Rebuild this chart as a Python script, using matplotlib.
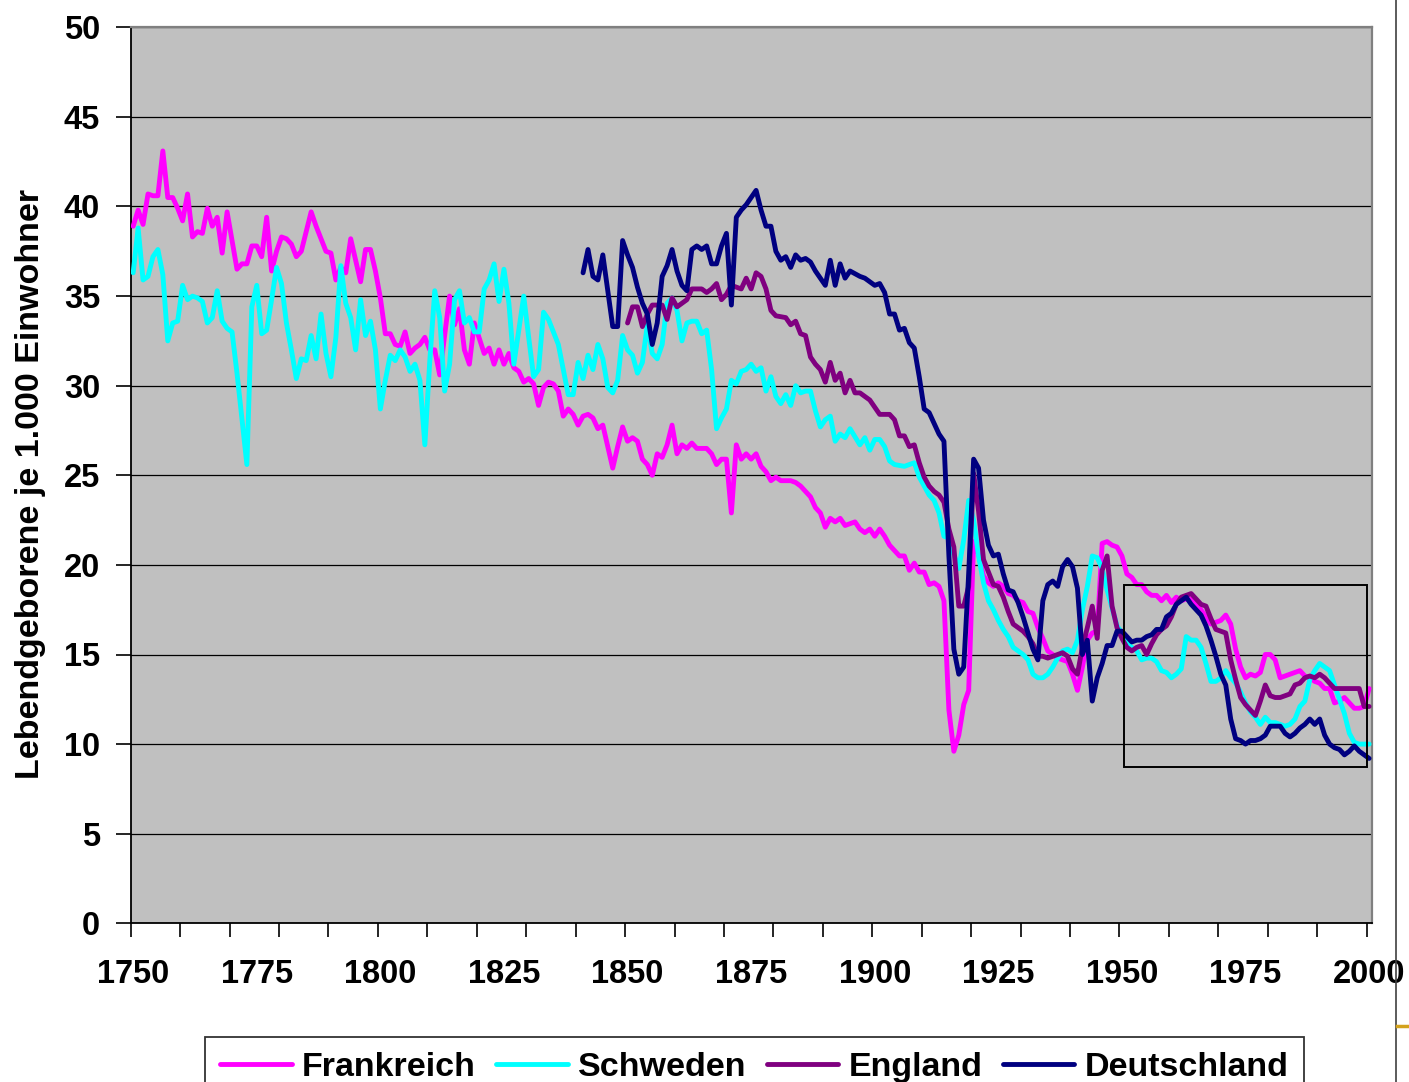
import matplotlib.pyplot as plt
from matplotlib.lines import Line2D
from matplotlib.patches import Rectangle
from matplotlib.font_manager import FontProperties

# Lebendgeborene je 1.000 Einwohner, 1750-2000
fr_years = [1750, 1751, 1752, 1753, 1754, 1755, 1756, 1757, 1758, 1759, 1760, 1761, 1762, 1763, 1764,
            1765, 1766, 1767, 1768, 1769, 1771, 1772, 1773, 1774, 1775, 1776, 1777, 1778, 1779, 1780,
            1781, 1782, 1783, 1784, 1785, 1786, 1787, 1789, 1790, 1791, 1792, 1793, 1794, 1796, 1797,
            1798, 1799, 1800, 1801, 1802, 1803, 1804, 1805, 1806, 1807, 1808, 1809, 1810, 1811, 1812,
            1814, 1815, 1816, 1817, 1818, 1819, 1821, 1822, 1823, 1824, 1825, 1826, 1827, 1828, 1829,
            1830, 1831, 1832, 1833, 1834, 1835, 1836, 1837, 1838, 1839, 1840, 1841, 1842, 1843, 1844,
            1845, 1847, 1848, 1849, 1850, 1851, 1852, 1853, 1854, 1855, 1856, 1857, 1858, 1859, 1860,
            1861, 1862, 1863, 1864, 1866, 1867, 1868, 1869, 1870, 1871, 1872, 1873, 1874, 1875, 1876,
            1877, 1878, 1879, 1880, 1881, 1883, 1884, 1885, 1887, 1888, 1889, 1890, 1891, 1892, 1893,
            1894, 1896, 1897, 1898, 1899, 1900, 1901, 1902, 1903, 1904, 1905, 1906, 1907, 1908, 1909,
            1910, 1911, 1912, 1913, 1914, 1915, 1916, 1917, 1918, 1919, 1920, 1921, 1922, 1923, 1924,
            1925, 1926, 1927, 1928, 1929, 1930, 1931, 1932, 1933, 1934, 1935, 1936, 1937, 1938, 1939,
            1940, 1941, 1942, 1943, 1944, 1945, 1946, 1947, 1948, 1949, 1950, 1951, 1952, 1953, 1954,
            1955, 1956, 1957, 1958, 1959, 1960, 1961, 1962, 1963, 1964, 1965, 1966, 1967, 1968, 1969,
            1970, 1971, 1972, 1973, 1974, 1975, 1976, 1977, 1978, 1979, 1980, 1981, 1982, 1983, 1984,
            1986, 1987, 1988, 1989, 1990, 1991, 1992, 1993, 1994, 1995, 1997, 1998, 1999, 2000]
fr_rate = [38.9, 39.8, 39.0, 40.7, 40.6, 40.6, 43.1, 40.5, 40.5, 39.9, 39.2, 40.7, 38.3, 38.6, 38.5,
           39.9, 38.9, 39.4, 37.4, 39.7, 36.5, 36.8, 36.8, 37.8, 37.8, 37.2, 39.4, 36.4, 37.5, 38.3,
           38.2, 37.9, 37.2, 37.5, 38.6, 39.7, 38.9, 37.5, 37.4, 35.9, 36.6, 36.3, 38.2, 35.8, 37.6,
           37.6, 36.4, 34.9, 32.9, 32.9, 32.3, 32.2, 33.0, 31.8, 32.1, 32.3, 32.7, 32.0, 32.0, 30.6,
           35.0, 33.4, 34.3, 32.0, 31.2, 33.5, 31.8, 32.1, 31.2, 32.0, 31.2, 31.8, 31.0, 30.8, 30.2,
           30.4, 30.1, 28.9, 29.9, 30.2, 30.1, 29.7, 28.3, 28.7, 28.4, 27.8, 28.3, 28.4, 28.2, 27.6,
           27.8, 25.4, 26.6, 27.7, 26.9, 27.1, 26.9, 25.9, 25.6, 25.0, 26.2, 26.0, 26.7, 27.8, 26.2,
           26.7, 26.5, 26.8, 26.5, 26.5, 26.2, 25.6, 25.9, 25.9, 22.9, 26.7, 25.9, 26.2, 25.9, 26.2,
           25.5, 25.2, 24.7, 24.9, 24.7, 24.7, 24.6, 24.4, 23.8, 23.2, 22.9, 22.1, 22.6, 22.4, 22.6,
           22.2, 22.4, 22.0, 21.8, 22.0, 21.6, 22.0, 21.6, 21.1, 20.8, 20.5, 20.5, 19.7, 20.1, 19.6,
           19.6, 18.9, 19.0, 18.8, 18.0, 11.9, 9.6, 10.5, 12.2, 13.0, 21.3, 20.6, 19.4, 19.0, 18.8,
           19.0, 18.8, 18.4, 18.3, 18.0, 17.9, 17.4, 17.3, 16.5, 15.9, 15.2, 15.0, 14.8, 14.7, 14.6,
           13.9, 13.0, 14.3, 15.8, 16.2, 16.3, 21.2, 21.3, 21.1, 21.0, 20.5, 19.5, 19.3, 18.9, 18.9,
           18.5, 18.3, 18.3, 18.0, 18.3, 17.9, 18.2, 18.0, 18.1, 18.1, 17.8, 17.5, 17.1, 16.7, 16.8,
           16.9, 17.2, 16.7, 15.3, 14.3, 13.7, 13.9, 13.8, 14.0, 15.0, 15.0, 14.7, 13.7, 13.8, 13.9,
           14.1, 13.8, 13.7, 13.5, 13.4, 13.1, 13.1, 12.3, 12.4, 12.6, 12.0, 12.0, 12.1, 13.1]

se_years = [1750, 1751, 1752, 1753, 1754, 1755, 1756, 1757, 1758, 1759, 1760, 1761, 1762, 1763, 1764,
            1765, 1766, 1767, 1768, 1769, 1770, 1771, 1773, 1774, 1775, 1776, 1777, 1778, 1779, 1780,
            1781, 1782, 1783, 1784, 1785, 1786, 1787, 1788, 1789, 1790, 1791, 1792, 1793, 1794, 1795,
            1796, 1797, 1798, 1799, 1800, 1801, 1802, 1803, 1804, 1805, 1806, 1807, 1808, 1809, 1810,
            1811, 1812, 1813, 1814, 1815, 1816, 1817, 1818, 1819, 1820, 1821, 1822, 1823, 1824, 1825,
            1826, 1827, 1829, 1830, 1831, 1832, 1833, 1834, 1836, 1837, 1838, 1839, 1840, 1841, 1842,
            1843, 1844, 1845, 1846, 1847, 1848, 1849, 1850, 1851, 1852, 1853, 1854, 1855, 1856, 1857,
            1858, 1859, 1860, 1861, 1862, 1863, 1864, 1865, 1866, 1867, 1868, 1869, 1870, 1871, 1872,
            1873, 1874, 1875, 1876, 1877, 1878, 1879, 1880, 1881, 1882, 1883, 1884, 1885, 1886, 1887,
            1888, 1889, 1890, 1891, 1892, 1893, 1894, 1895, 1897, 1898, 1899, 1900, 1901, 1902, 1903,
            1904, 1906, 1908, 1909, 1910, 1911, 1912, 1913, 1914, 1915, 1916, 1917, 1918, 1919, 1920,
            1921, 1922, 1923, 1924, 1925, 1926, 1927, 1928, 1929, 1930, 1931, 1932, 1933, 1934, 1935,
            1936, 1937, 1938, 1939, 1940, 1941, 1942, 1943, 1944, 1945, 1946, 1947, 1948, 1949, 1950,
            1951, 1952, 1953, 1954, 1955, 1956, 1957, 1958, 1959, 1960, 1961, 1962, 1963, 1964, 1965,
            1966, 1967, 1968, 1969, 1970, 1971, 1972, 1973, 1974, 1975, 1976, 1977, 1978, 1979, 1980,
            1981, 1982, 1983, 1984, 1985, 1986, 1987, 1988, 1989, 1990, 1991, 1992, 1993, 1994, 1995,
            1996, 1997, 1998, 1999, 2000]
se_rate = [36.3, 38.8, 35.9, 36.1, 37.2, 37.6, 36.2, 32.5, 33.5, 33.6, 35.6, 34.8, 35.0, 34.9, 34.7,
           33.5, 33.8, 35.3, 33.6, 33.2, 33.0, 30.7, 25.6, 34.4, 35.6, 32.9, 33.1, 34.8, 36.6, 35.7,
           33.5, 32.0, 30.4, 31.5, 31.4, 32.8, 31.5, 34.0, 31.8, 30.5, 32.7, 36.7, 34.6, 33.8, 32.0,
           34.8, 32.8, 33.6, 32.0, 28.7, 30.3, 31.7, 31.4, 32.0, 31.6, 30.8, 31.2, 30.3, 26.7, 31.4,
           35.3, 33.8, 29.7, 31.2, 34.8, 35.3, 33.5, 33.8, 33.0, 33.0, 35.4, 35.9, 36.8, 34.7, 36.5,
           34.6, 31.2, 35.0, 32.7, 30.5, 30.9, 34.1, 33.7, 32.3, 30.9, 29.5, 29.5, 31.3, 30.4, 31.7,
           30.9, 32.3, 31.5, 29.9, 29.6, 30.3, 32.8, 32.0, 31.7, 30.7, 31.3, 33.4, 31.8, 31.5, 32.3,
           34.6, 34.9, 34.2, 32.5, 33.5, 33.6, 33.6, 32.9, 33.1, 30.9, 27.6, 28.2, 28.7, 30.3, 30.1,
           30.8, 30.9, 31.2, 30.8, 31.0, 29.7, 30.5, 29.4, 29.0, 29.5, 28.9, 30.0, 29.6, 29.7, 29.7,
           28.6, 27.7, 28.1, 28.3, 26.9, 27.3, 27.1, 27.6, 26.7, 27.1, 26.4, 27.0, 27.0, 26.6, 25.8,
           25.6, 25.5, 25.7, 24.9, 24.4, 23.9, 23.6, 22.9, 21.6, 21.5, 20.6, 19.8, 21.4, 23.6, 22.5,
           20.5, 19.0, 18.0, 17.5, 16.9, 16.4, 16.0, 15.4, 15.2, 15.0, 14.7, 13.9, 13.7, 13.7, 13.9,
           14.3, 14.8, 15.2, 15.3, 15.1, 15.8, 17.5, 18.8, 20.5, 20.4, 19.8, 18.6, 17.6, 16.6, 16.2,
           15.6, 15.4, 15.2, 14.7, 14.8, 14.8, 14.6, 14.1, 14.0, 13.7, 13.9, 14.2, 16.0, 15.8, 15.8,
           15.4, 14.5, 13.5, 13.5, 13.7, 14.1, 13.7, 13.4, 12.9, 12.3, 11.8, 11.5, 11.1, 11.5, 11.2,
           11.2, 11.1, 11.0, 11.1, 11.4, 12.1, 12.4, 13.6, 14.1, 14.5, 14.3, 14.1, 13.3, 12.5, 11.7,
           10.6, 10.1, 10.0, 10.0, 10.0]

en_years = [1850, 1851, 1852, 1853, 1854, 1855, 1857, 1858, 1859, 1860, 1862, 1863, 1865, 1866, 1867,
            1868, 1869, 1870, 1871, 1873, 1874, 1875, 1876, 1877, 1878, 1879, 1880, 1882, 1883, 1884,
            1885, 1886, 1887, 1888, 1889, 1890, 1891, 1892, 1893, 1894, 1895, 1896, 1897, 1899, 1900,
            1901, 1903, 1904, 1905, 1906, 1907, 1908, 1909, 1910, 1911, 1912, 1913, 1914, 1915, 1916,
            1917, 1918, 1919, 1920, 1921, 1922, 1923, 1924, 1925, 1926, 1927, 1928, 1929, 1930, 1931,
            1932, 1933, 1934, 1935, 1936, 1937, 1938, 1939, 1940, 1941, 1942, 1943, 1944, 1945, 1946,
            1947, 1948, 1949, 1950, 1951, 1952, 1953, 1954, 1955, 1956, 1957, 1958, 1959, 1960, 1961,
            1962, 1963, 1964, 1965, 1966, 1967, 1968, 1969, 1970, 1971, 1972, 1973, 1974, 1975, 1976,
            1977, 1978, 1979, 1980, 1981, 1982, 1983, 1984, 1985, 1986, 1987, 1988, 1989, 1990, 1991,
            1992, 1993, 1994, 1995, 1996, 1997, 1998, 1999, 2000]
en_rate = [33.5, 34.4, 34.4, 33.3, 34.0, 34.5, 34.5, 33.7, 34.9, 34.4, 34.8, 35.4, 35.4, 35.2, 35.4,
           35.7, 34.8, 35.1, 35.6, 35.4, 36.0, 35.4, 36.3, 36.1, 35.4, 34.2, 33.9, 33.8, 33.4, 33.6,
           32.9, 32.8, 31.6, 31.2, 30.9, 30.2, 31.3, 30.3, 30.7, 29.6, 30.3, 29.6, 29.6, 29.2, 28.8,
           28.4, 28.4, 28.1, 27.2, 27.2, 26.6, 26.7, 25.7, 24.9, 24.4, 24.1, 23.9, 23.5, 22.0, 21.0,
           17.7, 17.7, 18.8, 25.1, 23.0, 20.3, 19.6, 18.9, 18.8, 18.2, 17.4, 16.7, 16.5, 16.3, 16.0,
           15.6, 14.9, 14.9, 14.8, 14.9, 15.0, 15.1, 14.9, 14.2, 13.9, 15.4, 16.5, 17.7, 15.9, 19.7,
           20.5, 17.7, 16.5, 15.9, 15.4, 15.2, 15.4, 15.5, 15.0, 15.6, 16.1, 16.4, 16.6, 17.1, 17.8,
           18.2, 18.3, 18.4, 18.1, 17.8, 17.7, 17.0, 16.4, 16.3, 16.2, 14.7, 13.6, 12.6, 12.2, 11.9,
           11.6, 12.4, 13.3, 12.7, 12.6, 12.6, 12.7, 12.8, 13.3, 13.4, 13.7, 13.8, 13.7, 13.9, 13.7,
           13.4, 13.1, 13.1, 13.1, 13.1, 13.1, 13.1, 12.1, 12.1]

de_years = [1841, 1842, 1843, 1844, 1845, 1847, 1848, 1849, 1850, 1851, 1852, 1853, 1854, 1855, 1856,
            1857, 1858, 1859, 1860, 1861, 1862, 1863, 1864, 1865, 1866, 1867, 1868, 1869, 1870, 1871,
            1872, 1873, 1874, 1875, 1876, 1877, 1878, 1879, 1880, 1881, 1882, 1883, 1884, 1885, 1886,
            1887, 1888, 1890, 1891, 1892, 1893, 1894, 1895, 1897, 1898, 1900, 1901, 1902, 1903, 1904,
            1905, 1906, 1907, 1908, 1909, 1910, 1911, 1913, 1914, 1915, 1916, 1917, 1918, 1919, 1920,
            1921, 1922, 1923, 1924, 1925, 1926, 1927, 1928, 1929, 1930, 1931, 1932, 1933, 1934, 1935,
            1936, 1937, 1938, 1939, 1940, 1941, 1942, 1943, 1944, 1945, 1946, 1947, 1948, 1949, 1950,
            1951, 1952, 1953, 1954, 1955, 1956, 1957, 1958, 1959, 1960, 1961, 1962, 1963, 1964, 1965,
            1966, 1967, 1968, 1969, 1970, 1971, 1972, 1973, 1974, 1975, 1976, 1977, 1978, 1979, 1980,
            1981, 1982, 1983, 1984, 1985, 1986, 1987, 1988, 1989, 1990, 1991, 1992, 1993, 1994, 1995,
            1996, 1997, 1998, 1999, 2000]
de_rate = [36.3, 37.6, 36.1, 35.9, 37.3, 33.3, 33.3, 38.1, 37.3, 36.6, 35.5, 34.6, 34.0, 32.3, 33.5,
           36.1, 36.7, 37.6, 36.4, 35.6, 35.3, 37.6, 37.8, 37.6, 37.8, 36.8, 36.8, 37.8, 38.5, 34.5,
           39.4, 39.8, 40.1, 40.5, 40.9, 39.8, 38.9, 38.9, 37.5, 37.0, 37.2, 36.6, 37.3, 37.0, 37.1,
           36.9, 36.4, 35.6, 37.0, 35.6, 36.8, 36.0, 36.4, 36.1, 36.0, 35.6, 35.7, 35.2, 34.0, 34.0,
           33.1, 33.2, 32.4, 32.1, 30.5, 28.7, 28.5, 27.3, 26.9, 20.5, 15.3, 13.9, 14.3, 19.5, 25.9,
           25.4, 22.5, 21.1, 20.5, 20.6, 19.5, 18.6, 18.5, 17.9, 17.1, 16.2, 15.3, 14.7, 18.0, 18.9,
           19.1, 18.8, 19.9, 20.3, 19.9, 18.7, 15.0, 15.8, 12.4, 13.7, 14.5, 15.5, 15.5, 16.3, 16.3,
           16.0, 15.7, 15.8, 15.8, 16.0, 16.1, 16.4, 16.4, 17.1, 17.3, 17.8, 18.0, 18.2, 17.8, 17.5,
           17.2, 16.6, 15.8, 14.9, 13.9, 13.3, 11.4, 10.3, 10.2, 10.0, 10.2, 10.2, 10.3, 10.5, 11.0,
           11.0, 11.0, 10.6, 10.4, 10.6, 10.9, 11.1, 11.4, 11.1, 11.4, 10.5, 10.0, 9.8, 9.7, 9.4,
           9.6, 9.9, 9.6, 9.4, 9.2]

series = [
    ("Frankreich", fr_years, fr_rate, "#FF00FF"),
    ("Schweden", se_years, se_rate, "#00FFFF"),
    ("England", en_years, en_rate, "#800080"),
    ("Deutschland", de_years, de_rate, "#000080"),
]

x_labels = [1750, 1775, 1800, 1825, 1850, 1875, 1900, 1925, 1950, 1975, 2000]
y_ticks = list(range(0, 51, 5))

W, H = 1409, 1082
FONT = "Liberation Sans"

fig = plt.figure(figsize=(W / 100, H / 100), dpi=100)
fig.patch.set_facecolor("white")

left, right, top, bottom = 130.7, 1371.6, 27.3, 923.3
ax = fig.add_axes([left / W, 1 - bottom / H, (right - left) / W, (bottom - top) / H])
ax.set_facecolor("#C0C0C0")

for name, yrs, vals, col in series:
    ax.plot(yrs, vals, color=col, linewidth=3.5, label=name,
            solid_joinstyle="round", solid_capstyle="round", zorder=3)

# Ausschnitt 1950-2000
ax.add_patch(Rectangle((1950.4, 8.7), 49.1, 10.2, fill=False,
                       edgecolor="black", linewidth=1.4, zorder=4))

ax.set_xlim(1749.5, 2000.5)
ax.set_ylim(0, 50)

ax.set_xticks(x_labels)
ax.set_xticks([1749.5 + 10 * k for k in range(26)], minor=True)
ax.set_xticklabels([str(v) for v in x_labels])
ax.tick_params(axis="x", which="major", length=0, pad=26)
ax.tick_params(axis="x", which="minor", length=10, width=1.2, direction="out", color="black")

ax.set_yticks(y_ticks)
ax.tick_params(axis="y", which="major", length=11, width=1.2, direction="out", pad=11)

for lab in ax.get_xticklabels() + ax.get_yticklabels():
    lab.set_fontfamily(FONT)
    lab.set_fontweight("bold")
    lab.set_fontsize(23.5)

ax.grid(axis="y", color="black", linewidth=0.9, zorder=1)
ax.set_axisbelow(True)

ax.spines["left"].set_color("black")
ax.spines["bottom"].set_color("black")
ax.spines["left"].set_linewidth(1.3)
ax.spines["bottom"].set_linewidth(1.3)
for side in ("top", "right"):
    ax.spines[side].set_color("#808080")
    ax.spines[side].set_linewidth(1.6)

fig.text(31 / W, 1 - 484 / H, "Lebendgeborene je 1.000 Einwohner",
         rotation=90, ha="center", va="center",
         fontfamily=FONT, fontweight="bold", fontsize=24.5)

leg = fig.legend(loc="upper left", bbox_to_anchor=(205 / W, 1 - 1037 / H),
                 ncol=4, frameon=True, fancybox=False, borderaxespad=0,
                 handlelength=2.1, handletextpad=0.3, columnspacing=0.6, borderpad=0.45,
                 prop=FontProperties(family=FONT, weight="bold", size=24.5))
leg.get_frame().set_edgecolor("#333333")
leg.get_frame().set_linewidth(1.3)
leg.get_frame().set_alpha(1)

# Folienrand rechts
fig.add_artist(Line2D([1395.7 / W, 1395.7 / W], [0, 1], transform=fig.transFigure,
                      color="#404040", linewidth=1.2))
fig.add_artist(Line2D([1396.5 / W, 1.0], [1 - 1025.7 / H, 1 - 1025.7 / H],
                      transform=fig.transFigure, color="#D4A21C", linewidth=2.5))

fig.savefig("out.png", dpi=100, facecolor="white")
